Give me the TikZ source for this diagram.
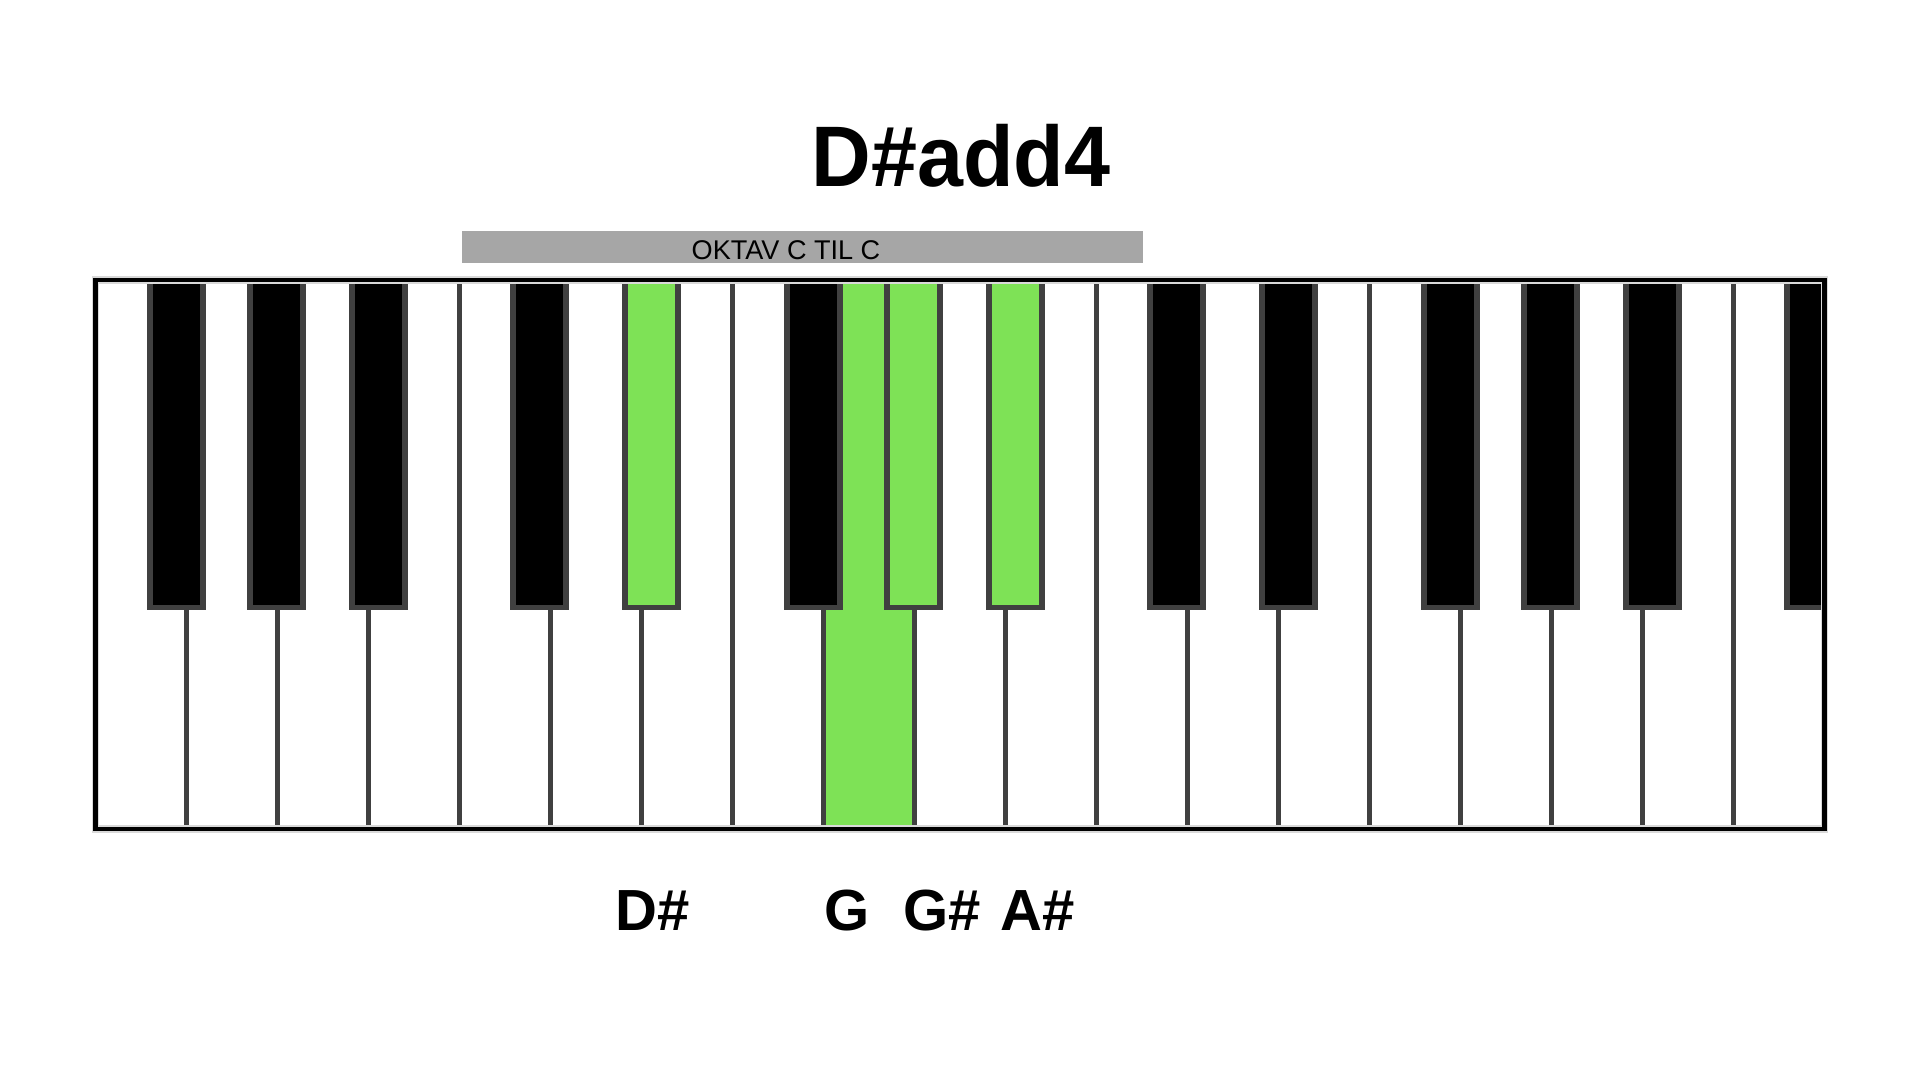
\documentclass[tikz,border=0pt]{standalone}
\usepackage{fontspec}
\setmainfont{Liberation Sans}
\usepackage{tikz}
\definecolor{keygreen}{RGB}{126,226,86}
\definecolor{keyedge}{RGB}{64,64,64}
\definecolor{barfill}{RGB}{166,166,166}

\begin{document}
\begin{tikzpicture}[x=0.01cm,y=-0.01cm]
    \tikzstyle{every node}+=[inner sep=0pt]
    \tikzstyle{keyline}=[draw=keyedge, line width=1.4pt]
    \tikzstyle{blackkey}=[draw=keyedge, line width=1.6pt]
    \tikzstyle{notename}=[anchor=base, font=\fontsize{16.5}{20}\selectfont\bfseries]
    \useasboundingbox (0,0) rectangle (1920,1080);
    \fill [white] (0,0) rectangle (1920,1080);
    % title and octave bar
    \node [anchor=base, yscale=1.04] (title) at (961,187) {\fontsize{23.5}{28}\selectfont\bfseries D\#add4};
    \fill [barfill] (461.6,231) rectangle (1142.5,263.3);
    \node [anchor=base] (octave) at (786,259.3) {\fontsize{7.7}{9}\selectfont OKTAV C TIL C};
    % white keys
    \fill [white] (95.5,280) rectangle (1824.5,829);
    \fill [keygreen] (823.5,280) rectangle (914.5,829);
    \foreach \i in {1,...,18}
        \draw [keyline] ({95.5+91*\i},280) -- ({95.5+91*\i},829);
    % black keys: divider, offset, colour
    \begin{scope}
    \clip (95.5,280) rectangle (1824.5,829);
    \foreach \d/\o/\c in {1/-10/black, 2/-1/black, 3/10/black, 5/-11/black, 6/10/keygreen,
                          8/-10/black, 9/-1/keygreen, 10/10/keygreen, 12/-11/black, 13/10/black,
                          15/-10/black, 16/-1/black, 17/10/black, 19/-11/black}
        \filldraw [blackkey, fill=\c] ({95.5+91*\d+\o-26.5},276) rectangle ({95.5+91*\d+\o+26.5},607.5);
    \end{scope}
    \draw [black!15, line width=2.2pt] (95.5,280) rectangle (1824.5,829);
    \draw [black, line width=1.4pt] (95.5,280) rectangle (1824.5,829);
    % note names
    \node [notename] (lblDs) at (653,931) {D\#};
    \node [notename] (lblG) at (847,931) {G};
    \node [notename] (lblGs) at (942.5,931) {G\#};
    \node [notename] (lblAs) at (1037.5,931) {A\#};
\end{tikzpicture}
\end{document}
